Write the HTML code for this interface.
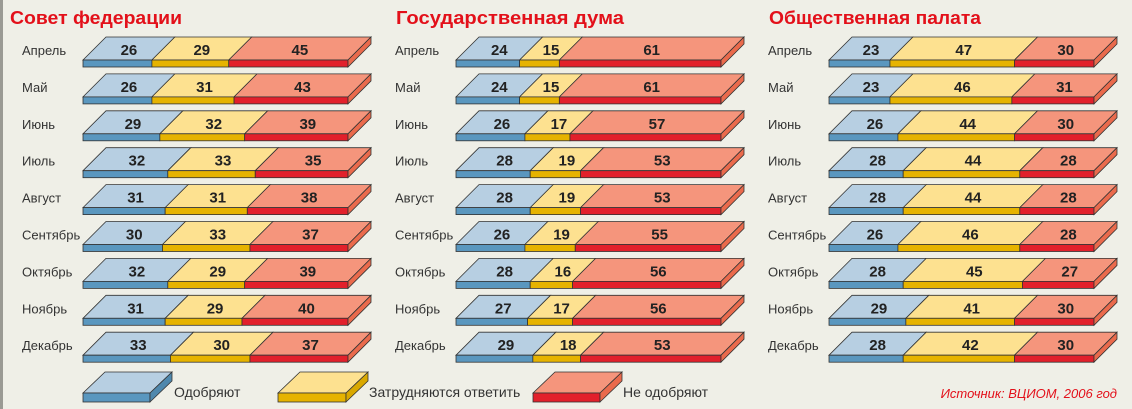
<!DOCTYPE html>
<html><head><meta charset="utf-8"><style>
body{margin:0;width:1132px;height:409px;background:#efefe7;overflow:hidden}
svg{display:block}
text{font-family:"Liberation Sans",sans-serif}
</style></head><body>
<svg id="s" width="1132" height="409" xmlns="http://www.w3.org/2000/svg">
<rect x="0" y="0" width="3" height="409" fill="#9a9a94"/>
<text x="10" y="24" font-size="18" font-weight="bold" fill="#e3101a" textLength="172" lengthAdjust="spacingAndGlyphs">Совет федерации</text>
<text x="396" y="24" font-size="18" font-weight="bold" fill="#e3101a" textLength="228" lengthAdjust="spacingAndGlyphs">Государственная дума</text>
<text x="769" y="24" font-size="18" font-weight="bold" fill="#e3101a" textLength="212" lengthAdjust="spacingAndGlyphs">Общественная палата</text>
<text x="1117" y="398" font-size="13" font-style="italic" fill="#e3101a" text-anchor="end">Источник: ВЦИОМ, 2006 год</text>
<text x="174" y="397" font-size="14" fill="#333">Одобряют</text>
<text x="369" y="397" font-size="14" fill="#333">Затрудняются ответить</text>
<text x="623" y="397" font-size="14" fill="#333">Не одобряют</text>
</svg>
<script>
const S=document.getElementById('s');
const NS='http://www.w3.org/2000/svg';
function el(t,a,txt){const e=document.createElementNS(NS,t);for(const k in a)e.setAttribute(k,a[k]);if(txt)e.textContent=txt;S.appendChild(e);return e;}
const C=[["#b7cfe2","#5a97bf","#4f88ad"],["#fde190","#e6b300","#d9a800"],["#f5957c","#e2202b","#ea6a4c"]];
const months=["Апрель","Май","Июнь","Июль","Август","Сентябрь","Октябрь","Ноябрь","Декабрь"];
const data=[
[[26,29,45],[26,31,43],[29,32,39],[32,33,35],[31,31,38],[30,33,37],[32,29,39],[31,29,40],[33,30,37]],
[[24,15,61],[24,15,61],[26,17,57],[28,19,53],[28,19,53],[26,19,55],[28,16,56],[27,17,56],[29,18,53]],
[[23,47,30],[23,46,31],[26,44,30],[28,44,28],[28,44,28],[26,46,28],[28,45,27],[29,41,30],[28,42,30]]];
const st='#333';
function box(x0,x1,y,col,side,D,DX,H){
 el('polygon',{points:`${x0},${y} ${x0+DX},${y-D} ${x1+DX},${y-D} ${x1},${y}`,fill:col[0],stroke:st,'stroke-width':0.8});
 el('rect',{x:x0,y:y,width:x1-x0,height:H,fill:col[1],stroke:st,'stroke-width':0.8});
 if(side)el('polygon',{points:`${x1},${y} ${x1+DX},${y-D} ${x1+DX},${y-D+H} ${x1},${y+H}`,fill:col[2],stroke:st,'stroke-width':0.8});
}
const W=265;
data.forEach((p,pi)=>{
 const bx=83+pi*373, lx=22+pi*373;
 p.forEach((r,ri)=>{
  const y=60+ri*36.9;
  el('text',{x:lx,y:y-5,'font-size':13,fill:'#333'},months[ri]);
  let x=bx;
  r.forEach((v,i)=>{
   const w=W*v/100, x1=x+w;
   box(x,x1,y,C[i],i==2,23,23,7);
   el('text',{x:x+w/2+11.5,y:y-5,'font-size':15,'font-weight':'bold',fill:'#222','text-anchor':'middle'},String(v));
   x=x1;
  });
 });
});
box(83,150,393,C[0],true,21,22,9);
box(278,346,393,C[1],true,21,22,9);
box(533,600,393,C[2],true,21,22,9);
</script>
</body></html>
